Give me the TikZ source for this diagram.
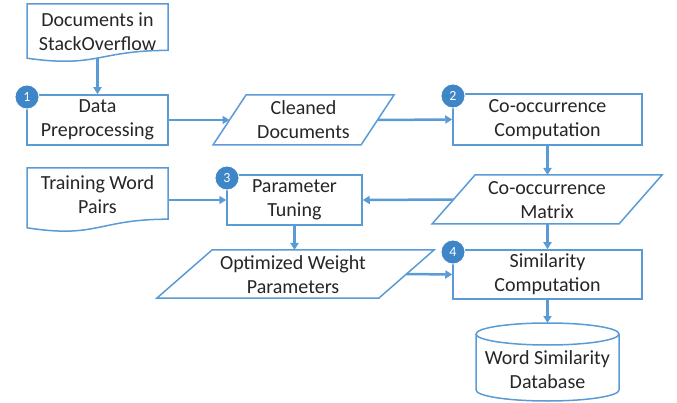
\documentclass[tikz,border=0pt]{standalone}
\usepackage{fontspec}
\setmainfont{Carlito}
\usetikzlibrary{arrows.meta}
\definecolor{lineblue}{RGB}{91,155,213}
\definecolor{badgeblue}{RGB}{62,134,200}
\definecolor{txt}{RGB}{38,38,38}
\begin{document}
\begin{tikzpicture}[x=1pt,y=-1pt,
  box/.style={draw=lineblue, line width=1.5pt, fill=white},
  lbl/.style={text=txt, font=\fontsize{20}{24}\selectfont, align=center, inner sep=0pt},
  rectbox/.style={box, lbl, minimum height=50pt},
  flow/.style={draw=lineblue, line width=2.5pt, -{Triangle[width=8pt,length=7pt]}},
  badge/.style={circle, fill=badgeblue, draw=white, line width=0.8pt, minimum size=24pt, inner sep=0pt, text=white, font=\fontsize{14}{14}\selectfont}]
\useasboundingbox (0,0) rectangle (677,403);

% Documents in StackOverflow (document shape)
\draw[box] (27,4) -- (168,4) -- (168,50.4) .. controls (97.5,50.4) and (97.5,68.2) .. (27,58.2) -- cycle;
\node[lbl] (doc) at (97.5,32) {Documents in\\StackOverflow};
\coordinate (docS) at (97.5,58);

% Training Word Pairs (document shape)
\draw[box] (27,168) -- (168,168) -- (168,219.2) .. controls (97.5,219.2) and (97.5,238.8) .. (27,227.8) -- cycle;
\node[lbl] (tw) at (97.5,195) {Training Word\\Pairs};
\coordinate (twE) at (168,200);

% Rectangles
\node[rectbox, minimum width=141pt] (dp) at (97.5,120) {Data\\Preprocessing};
\node[rectbox, minimum width=189pt, minimum height=51pt] (cc) at (547.5,119.5) {Co-occurrence\\Computation};
\node[rectbox, minimum width=135pt] (pt) at (294.5,200) {Parameter\\Tuning};
\node[rectbox, minimum width=189pt, minimum height=49pt] (sc) at (547.5,274.5) {Similarity\\Computation};

% Cleaned Documents (parallelogram)
\draw[box] (213,145) -- (361,145) -- (394,95) -- (246,95) -- cycle;
\node[lbl] (cd) at (303.5,120) {Cleaned\\Documents};
\coordinate (cdW) at (229.5,120);
\coordinate (cdE) at (377.5,120);

% Co-occurrence Matrix (parallelogram)
\draw[box] (432,224) -- (619,224) -- (662,175) -- (475,175) -- cycle;
\node[lbl] (mx) at (547,200) {Co-occurrence\\Matrix};
\coordinate (mxN) at (547.5,175);
\coordinate (mxS) at (547.5,224);
\coordinate (mxW) at (453.5,199.5);

% Optimized Weight Parameters (parallelogram)
\draw[box] (157,298) -- (379,298) -- (434,250) -- (212,250) -- cycle;
\node[lbl] (ow) at (293,274.5) {Optimized Weight\\Parameters};
\coordinate (owN) at (294.5,250);
\coordinate (owE) at (406.5,274);

% Database cylinder
\draw[box] (476,334) -- (476,390) arc[start angle=180, end angle=360, x radius=71.5pt, y radius=11pt] -- (619,334);
\draw[box] (547.5,334) ellipse [x radius=71.5pt, y radius=11pt];
\node[lbl] (db) at (547.5,370) {Word Similarity\\Database};
\coordinate (dbN) at (547.5,323);

% Connectors
\draw[flow] (docS) -- (dp.north);
\draw[flow] (dp.east) -- (cdW);
\draw[flow] (cdE) -- (cc.west);
\draw[flow] (cc.south) -- (mxN);
\draw[flow] (mxW) -- (pt.east);
\draw[flow] (twE) -- (pt.west);
\draw[flow] (pt.south) -- (owN);
\draw[flow] (owE) -- (sc.west);
\draw[flow] (mxS) -- (sc.north);
\draw[flow] (sc.south) -- (dbN);

% Step badges
\node[badge] (b1) at (27,97) {1};
\node[badge] (b2) at (453,96) {2};
\node[badge] (b3) at (227,178) {3};
\node[badge] (b4) at (453,252) {4};
\end{tikzpicture}
\end{document}
